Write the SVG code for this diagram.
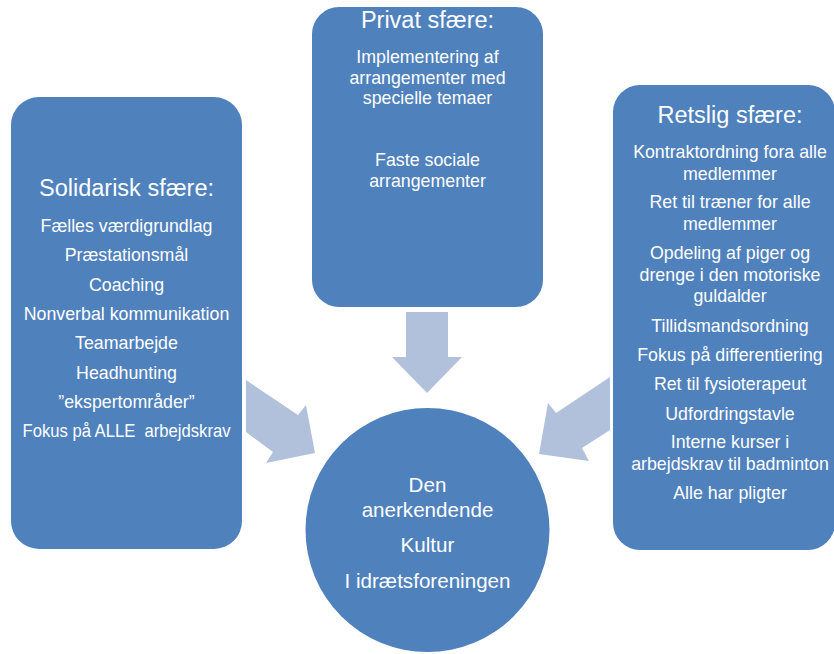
<svg xmlns="http://www.w3.org/2000/svg" width="834" height="654" viewBox="0 0 834 654">
<style>
.box{fill:#4F81BD;}
.arr{fill:#B2C1DB;}
text{font-family:"Liberation Sans",Arial,sans-serif;fill:#FFFFFF;text-anchor:middle;white-space:pre;}
.t{font-size:23.5px;}
.i{font-size:17.8px;}
.c{font-size:20.6px;}
</style>
<rect width="834" height="654" fill="#FFFFFF"/>
<g id="connectors">
<polygon class="arr" points="246,380 298,415 306,405 315,453 266,463 273,452 246,432"/>
<polygon class="arr" points="610,377 556,413 548,403 539,454 589,461 582,448 610,430"/>
<polygon class="arr" points="406,312 448,312 448,357 462,357 427,393 392,357 406,357"/>
</g>
<g id="solidarisk">
<rect class="box" x="11" y="97" width="231" height="452" rx="28"/>
<text class="t" x="126.5" y="196">Solidarisk sfære:</text>
<text class="i" x="126.5" y="232">Fælles værdigrundlag</text>
<text class="i" x="126.5" y="261">Præstationsmål</text>
<text class="i" x="126.5" y="290.5">Coaching</text>
<text class="i" x="126.5" y="320">Nonverbal kommunikation</text>
<text class="i" x="126.5" y="349">Teamarbejde</text>
<text class="i" x="126.5" y="378.5">Headhunting</text>
<text class="i" x="126.5" y="408">”ekspertområder”</text>
<text class="i" x="126.5" y="437" xml:space="preserve" textLength="208" lengthAdjust="spacingAndGlyphs">Fokus på ALLE  arbejdskrav</text>
</g>
<g id="privat">
<rect class="box" x="312" y="7" width="231" height="300" rx="27"/>
<text class="t" x="427.5" y="28">Privat sfære:</text>
<text class="i" x="427.5" y="63">Implementering af</text>
<text class="i" x="427.5" y="84">arrangementer med</text>
<text class="i" x="427.5" y="104">specielle temaer</text>
<text class="i" x="427.5" y="166">Faste sociale</text>
<text class="i" x="427.5" y="187">arrangementer</text>
</g>
<g id="retslig">
<rect class="box" x="613" y="85" width="222" height="465" rx="27"/>
<text class="t" x="730" y="123">Retslig sfære:</text>
<text class="i" x="730" y="158">Kontraktordning fora alle</text>
<text class="i" x="730" y="180">medlemmer</text>
<text class="i" x="730" y="208">Ret til træner for alle</text>
<text class="i" x="730" y="230">medlemmer</text>
<text class="i" x="730" y="259">Opdeling af piger og</text>
<text class="i" x="730" y="281">drenge i den motoriske</text>
<text class="i" x="730" y="302">guldalder</text>
<text class="i" x="730" y="332">Tillidsmandsordning</text>
<text class="i" x="730" y="361">Fokus på differentiering</text>
<text class="i" x="730" y="390">Ret til fysioterapeut</text>
<text class="i" x="730" y="420">Udfordringstavle</text>
<text class="i" x="730" y="448">Interne kurser i</text>
<text class="i" x="730" y="470">arbejdskrav til badminton</text>
<text class="i" x="730" y="499">Alle har pligter</text>
</g>
<g id="kultur">
<circle class="box" cx="427.5" cy="530" r="122"/>
<text class="c" x="427.5" y="492">Den</text>
<text class="c" x="427.5" y="517">anerkendende</text>
<text class="c" x="427.5" y="552">Kultur</text>
<text class="c" x="427.5" y="588">I idrætsforeningen</text>
</g>
</svg>
